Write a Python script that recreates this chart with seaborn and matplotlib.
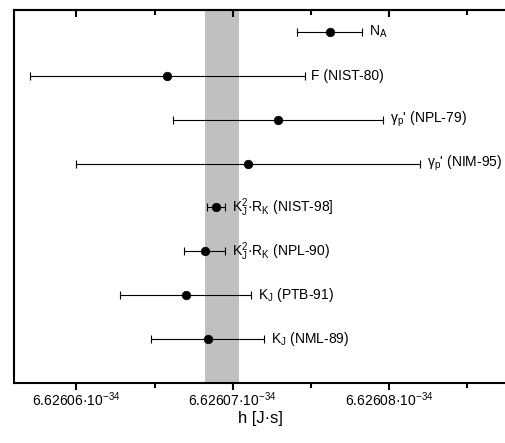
import numpy as np
import pandas as pd
import matplotlib
matplotlib.use("Agg")
import matplotlib.pyplot as plt
import seaborn as sns

# h values in units of 1e-34 J s
labels = ["N$_\\mathrm{A}$",
          "F (NIST-80)",
          "γ$_\\mathrm{p}$' (NPL-79)",
          "γ$_\\mathrm{p}$' (NIM-95)",
          "K$_\\mathrm{J}^\\mathrm{2}$·R$_\\mathrm{K}$ (NIST-98]",
          "K$_\\mathrm{J}^\\mathrm{2}$·R$_\\mathrm{K}$ (NPL-90)",
          "K$_\\mathrm{J}$ (PTB-91)",
          "K$_\\mathrm{J}$ (NML-89)"]
h_val = [6.6260762, 6.6260658, 6.6260729, 6.6260710,
         6.62606891, 6.6260682, 6.6260670, 6.6260684]
h_err = [0.0000021, 0.0000088, 0.0000067, 0.0000110,
         0.00000058, 0.0000013, 0.0000042, 0.0000036]
row = [8, 7, 6, 5, 4, 3, 2, 1]

band_lo, band_hi = 6.6260682, 6.6260704

tick_vals = [6.62606, 6.62607, 6.62608]
tick_text = ["6.62606·10$^{-34}$", "6.62607·10$^{-34}$", "6.62608·10$^{-34}$"]
minor_vals = [6.626065, 6.626075, 6.626085]

df = pd.DataFrame({"label": labels, "h": h_val, "err": h_err, "row": row})

sns.set_style("white")
plt.rcParams["font.family"] = ["Liberation Sans", "DejaVu Sans"]
plt.rcParams["mathtext.fontset"] = "custom"
plt.rcParams["mathtext.rm"] = "Liberation Sans"
plt.rcParams["mathtext.it"] = "Liberation Sans:italic"
plt.rcParams["text.color"] = "black"
plt.rcParams["axes.labelcolor"] = "black"
plt.rcParams["xtick.color"] = "black"

fig = plt.figure(figsize=(5.06, 4.43), dpi=100)
ax = fig.add_axes([0.0277, 0.1354, 0.9723, 0.842])

ax.axvspan(band_lo, band_hi, color="#c0c0c0", lw=0, zorder=0)

ax.errorbar(df["h"], df["row"], xerr=df["err"], fmt="none", ecolor="black",
            elinewidth=0.8, capsize=3, capthick=0.8, zorder=2)
sns.scatterplot(data=df, x="h", y="row", color="black", s=38, ax=ax,
                edgecolor="black", zorder=3, legend=False)

for _, r in df.iterrows():
    ax.annotate(r["label"], (r["h"] + r["err"], r["row"]), xytext=(5, 0),
                textcoords="offset points", va="center", ha="left", fontsize=10)

ax.set_xlim(6.626056, 6.6260875)
ax.set_ylim(0, 8.5)
ax.set_xticks(tick_vals, tick_text, fontsize=10)
ax.set_xticks(minor_vals, minor=True)
ax.set_yticks([])
ax.set_xlabel("h [J·s]", fontsize=12, labelpad=2)
ax.set_ylabel("")

for s in ["left", "bottom", "top"]:
    ax.spines[s].set_linewidth(1.5)
    ax.spines[s].set_color("black")
ax.spines["right"].set_visible(False)

ax.tick_params(axis="x", which="major", direction="out", length=5, width=1.5,
               top=False, bottom=True, pad=0)
ax.tick_params(axis="x", which="minor", direction="out", length=3.5, width=1.5,
               top=False, bottom=True)

# inward ticks on the top edge
top = ax.secondary_xaxis("top")
top.set_xticks(tick_vals, ["", "", ""])
top.set_xticks(minor_vals, minor=True)
top.tick_params(axis="x", which="major", direction="in", length=5, width=1.5)
top.tick_params(axis="x", which="minor", direction="in", length=3.5, width=1.5)
top.spines["top"].set_linewidth(1.5)

fig.savefig("out.png", dpi=100)
